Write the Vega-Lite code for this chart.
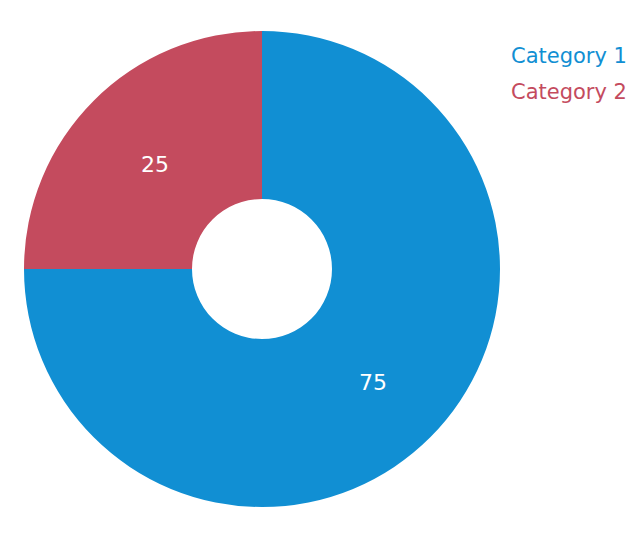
{
  "$schema": "https://vega.github.io/schema/vega-lite/v6.json",
  "width": 524,
  "height": 538,
  "padding": 0,
  "autosize": {"type": "pad"},
  "background": "white",
  "view": {"stroke": null},
  "data": {"values": [
    {"category": "Category 1", "value": 75, "rank": 1},
    {"category": "Category 2", "value": 25, "rank": 2}
  ]},
  "encoding": {
    "theta": {"field": "value", "type": "quantitative", "stack": true},
    "order": {"field": "rank", "type": "quantitative"}
  },
  "layer": [
    {
      "mark": {"type": "arc", "outerRadius": 238, "innerRadius": 70},
      "encoding": {
        "color": {
          "field": "category", "type": "nominal",
          "scale": {"domain": ["Category 1", "Category 2"], "range": ["#118FD3", "#C44B5E"]},
          "legend": {
            "title": null,
            "orient": "none",
            "legendX": 490,
            "legendY": 46,
            "symbolSize": 0,
            "symbolOpacity": 0,
            "symbolStrokeWidth": 0,
            "labelOffset": 0,
            "labelFont": "DejaVu Sans",
            "labelFontSize": 21,
            "labelLimit": 300,
            "rowPadding": 14,
            "encode": {"labels": {"update": {"fill": {"signal": "scale('color', datum.value)"}}}}
          }
        }
      }
    },
    {
      "mark": {"type": "text", "radius": 154, "fill": "white", "font": "DejaVu Sans", "fontSize": 22, "baseline": "middle", "align": "center", "dx": 2, "dy": 5},
      "encoding": {"text": {"field": "value", "type": "quantitative"}, "detail": {"field": "category", "type": "nominal"}}
    }
  ]
}
